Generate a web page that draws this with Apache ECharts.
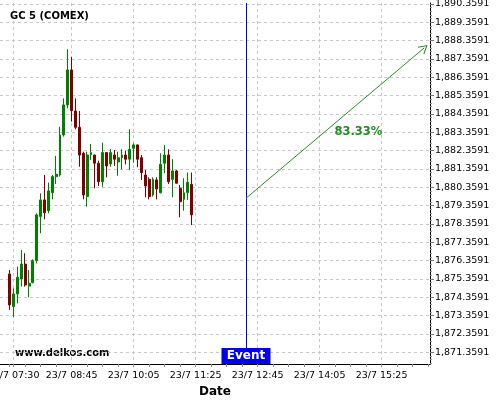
<!DOCTYPE html>
<html><head><meta charset="utf-8">
<script src="https://cdn.jsdelivr.net/npm/echarts@6/dist/echarts.min.js"></script>
<style>html,body{margin:0;padding:0;background:#fff}#c{width:500px;height:400px}</style>
</head><body><div id="c"></div>
<script>
// ---- data ----
const dayLabel = '23/7';
const candleTimes = ['07:25','07:30','07:35','07:40','07:45','07:50','07:55','08:00','08:05','08:10','08:15','08:20','08:25','08:30','08:35','08:40','08:45','08:50','08:55','09:00','09:05','09:10','09:15','09:20','09:25','09:30','09:35','09:40','09:45','09:50','09:55','10:00','10:05','10:10','10:15','10:20','10:25','10:30','10:35','10:40','10:45','10:50','10:55','11:00','11:05','11:10','11:15','11:20'];
const opens  = [1875.63,1873.85,1874.54,1875.36,1876.17,1874.97,1875.16,1876.36,1878.76,1879.67,1879.08,1880.06,1880.94,1881.03,1883.21,1884.85,1886.76,1884.52,1883.63,1882.21,1879.85,1882.14,1882.12,1881.67,1880.66,1882.25,1881.63,1882.12,1881.74,1881.97,1882.12,1881.89,1882.49,1882.67,1881.97,1881.03,1880.79,1879.94,1880.76,1880.06,1881.67,1882.12,1880.79,1881.25,1880.30,1879.70,1880.06,1880.52];
const closes = [1873.94,1874.54,1875.45,1876.17,1875.03,1875.12,1876.36,1878.85,1879.67,1878.97,1880.16,1880.94,1881.07,1883.21,1884.85,1886.76,1884.54,1883.63,1882.12,1879.94,1882.12,1882.25,1881.67,1880.66,1882.25,1881.52,1882.25,1881.89,1881.97,1882.12,1881.89,1882.43,1882.67,1881.89,1881.16,1880.43,1879.85,1880.79,1880.27,1881.61,1882.12,1880.66,1881.25,1880.58,1879.57,1880.06,1880.63,1878.85];
const lows   = [1873.67,1873.28,1874.03,1874.94,1874.94,1874.36,1875.12,1876.21,1877.85,1878.61,1878.94,1879.70,1880.54,1880.94,1883.12,1884.67,1883.94,1883.52,1881.48,1879.70,1879.30,1881.85,1880.30,1880.43,1880.39,1880.90,1881.48,1881.52,1880.99,1881.34,1881.61,1881.30,1881.70,1881.45,1880.76,1879.81,1879.70,1879.85,1879.70,1880.03,1881.12,1880.54,1879.81,1880.58,1878.72,1879.08,1879.67,1878.30];
const highs  = [1875.85,1874.85,1876.03,1876.94,1876.76,1875.85,1876.43,1878.94,1880.03,1881.03,1880.61,1881.03,1882.07,1883.66,1885.21,1887.89,1887.48,1885.21,1884.52,1882.30,1882.30,1882.72,1882.14,1881.81,1882.79,1882.27,1882.45,1882.39,1882.30,1882.43,1882.36,1883.52,1882.76,1882.69,1882.12,1881.30,1880.90,1880.90,1880.90,1882.21,1882.67,1882.43,1881.89,1881.30,1880.48,1880.85,1881.16,1881.16];
const xTickTimes = ['07:30','08:45','10:05','11:25','12:45','14:05','15:25'];
const yTickValues = [1871.3591,1872.3591,1873.3591,1874.3591,1875.3591,1876.3591,1877.3591,1878.3591,1879.3591,1880.3591,1881.3591,1882.3591,1883.3591,1884.3591,1885.3591,1886.3591,1887.3591,1888.3591,1889.3591,1890.3591];
const eventTime = '12:30';
const arrowFrom = ['12:30', 1879.76];
const arrowTo = ['16:20', 1887.96];
const probText = '83.33%';
const probAt = ['14:55', 1883.39];
const titleText = 'GC 5 (COMEX)';
const siteText = 'www.delkos.com';
const axisStart = '07:15', axisEnd = '16:25', stepMin = 5;
const yMin = 1870.72, yMax = 1890.41, minorPerMajor = 5;

// ---- build ----
function toMin(t){const p=t.split(':');return +p[0]*60+ +p[1];}
function fmtT(m){return String(Math.floor(m/60)).padStart(2,'0')+':'+String(m%60).padStart(2,'0');}
const cats = [];
for (let m = toMin(axisStart); m <= toMin(axisEnd); m += stepMin) cats.push(dayLabel + ' ' + fmtT(m));
const lab = t => dayLabel + ' ' + t;
const idxOf = t => cats.indexOf(lab(t));
const labelIdx = xTickTimes.map(idxOf);
const candleData = candleTimes.map((t,i)=>[lab(t), opens[i], closes[i], lows[i], highs[i]]);
const minorTicks = [];
for (let k = -minorPerMajor; k <= (yTickValues.length-1)*minorPerMajor; k++) {
  const v = yTickValues[0] + k / minorPerMajor;
  if (v >= yMin && v <= yMax && k % minorPerMajor !== 0) minorTicks.push(+v.toFixed(4));
}
function fmtPrice(v){const s=v.toFixed(4);const [a,b]=s.split('.');return a.replace(/\B(?=(\d{3})+(?!\d))/g,',')+'.'+b;}
const FONT='DejaVu Sans';
const green='#008000', red='#800000';

const chart = echarts.init(document.getElementById('c'), null, {renderer:'canvas'});
chart.setOption({
  animation:false,
  backgroundColor:'#fff',
  title:{text:titleText,left:10,top:11,padding:0,textStyle:{fontFamily:FONT,fontSize:10,fontWeight:'bold',color:'#000'}},
  grid:{left:0,right:70,top:3,bottom:36,containLabel:false,outerBoundsMode:'none'},
  xAxis:{
    type:'category', data:cats, boundaryGap:true,
    name:'Date', nameLocation:'middle', nameGap:22,
    nameTextStyle:{fontFamily:FONT,fontSize:12,fontWeight:'bold',color:'#000'},
    axisLine:{show:true,lineStyle:{color:'#000',width:1}},
    axisTick:{show:true,alignWithLabel:true,length:3,lineStyle:{color:'#888'},interval:(i)=> (i%4===2)||labelIdx.includes(i)},
    axisLabel:{interval:(i)=>labelIdx.includes(i),fontFamily:FONT,fontSize:9.5,color:'#000',margin:7,hideOverlap:false},
    splitLine:{show:true,alignWithLabel:true,interval:(i)=>labelIdx.includes(i),lineStyle:{color:'#c8c8c8',type:[3,3],width:1}}
  },
  yAxis:[{
    type:'value', position:'right', min:yMin, max:yMax, scale:true,
    axisLine:{show:true,lineStyle:{color:'#000',width:1}},
    axisTick:{show:true,length:4,customValues:yTickValues,lineStyle:{color:'#777'}},
    axisLabel:{customValues:yTickValues,formatter:v=>fmtPrice(v),fontFamily:FONT,fontSize:9.5,color:'#000',margin:5},
    splitLine:{show:true,lineStyle:{color:'#c8c8c8',type:[3,3],width:1}}
  },{
    type:'value', position:'right', min:yMin, max:yMax, scale:true,
    axisLine:{show:false},
    axisTick:{show:true,length:2,customValues:minorTicks,lineStyle:{color:'#999'}},
    axisLabel:{show:false,customValues:minorTicks},
    splitLine:{show:false}
  }],
  graphic:[{type:'text',left:15,top:348,style:{text:siteText,font:'bold 10px "DejaVu Sans"',fill:'#000'}}],
  series:[{
    type:'candlestick', data:candleData, encode:{x:0,y:[1,2,3,4]}, barWidth:2.4,
    itemStyle:{color:green,color0:red,borderColor:green,borderColor0:red,borderWidth:1},
    markLine:{
      silent:true, symbol:'none', animation:false,
      label:{show:false},
      data:[
        {xAxis:lab(eventTime), lineStyle:{color:'#0000ff',width:1,type:'solid'}},
        [{coord:[lab(arrowFrom[0]),arrowFrom[1]],symbol:'none',lineStyle:{color:'#2e8b2e',width:1,type:'solid'}},
         {coord:[lab(arrowTo[0]),arrowTo[1]],symbol:'path://M0,10 L5,0 L10,10 L9,10.6 L5,2.4 L1,10.6 Z',symbolSize:[10,9]}]
      ]
    },
    markPoint:{
      silent:true, animation:false,
      data:[
        {coord:[lab(eventTime),yMin],symbol:'rect',symbolSize:[49,16],symbolOffset:[0,-8],itemStyle:{color:'#0000ee'},
         label:{show:true,position:'inside',formatter:'Event',color:'#fff',fontFamily:FONT,fontSize:12,fontWeight:'bold'}},
        {coord:[lab(probAt[0]),probAt[1]],symbol:'circle',symbolSize:1,itemStyle:{color:'rgba(0,0,0,0)'},
         label:{show:true,position:'inside',formatter:probText,color:'#228b22',fontFamily:FONT,fontSize:11.5,fontWeight:'bold'}}
      ]
    }
  }]
});
</script></body></html>
